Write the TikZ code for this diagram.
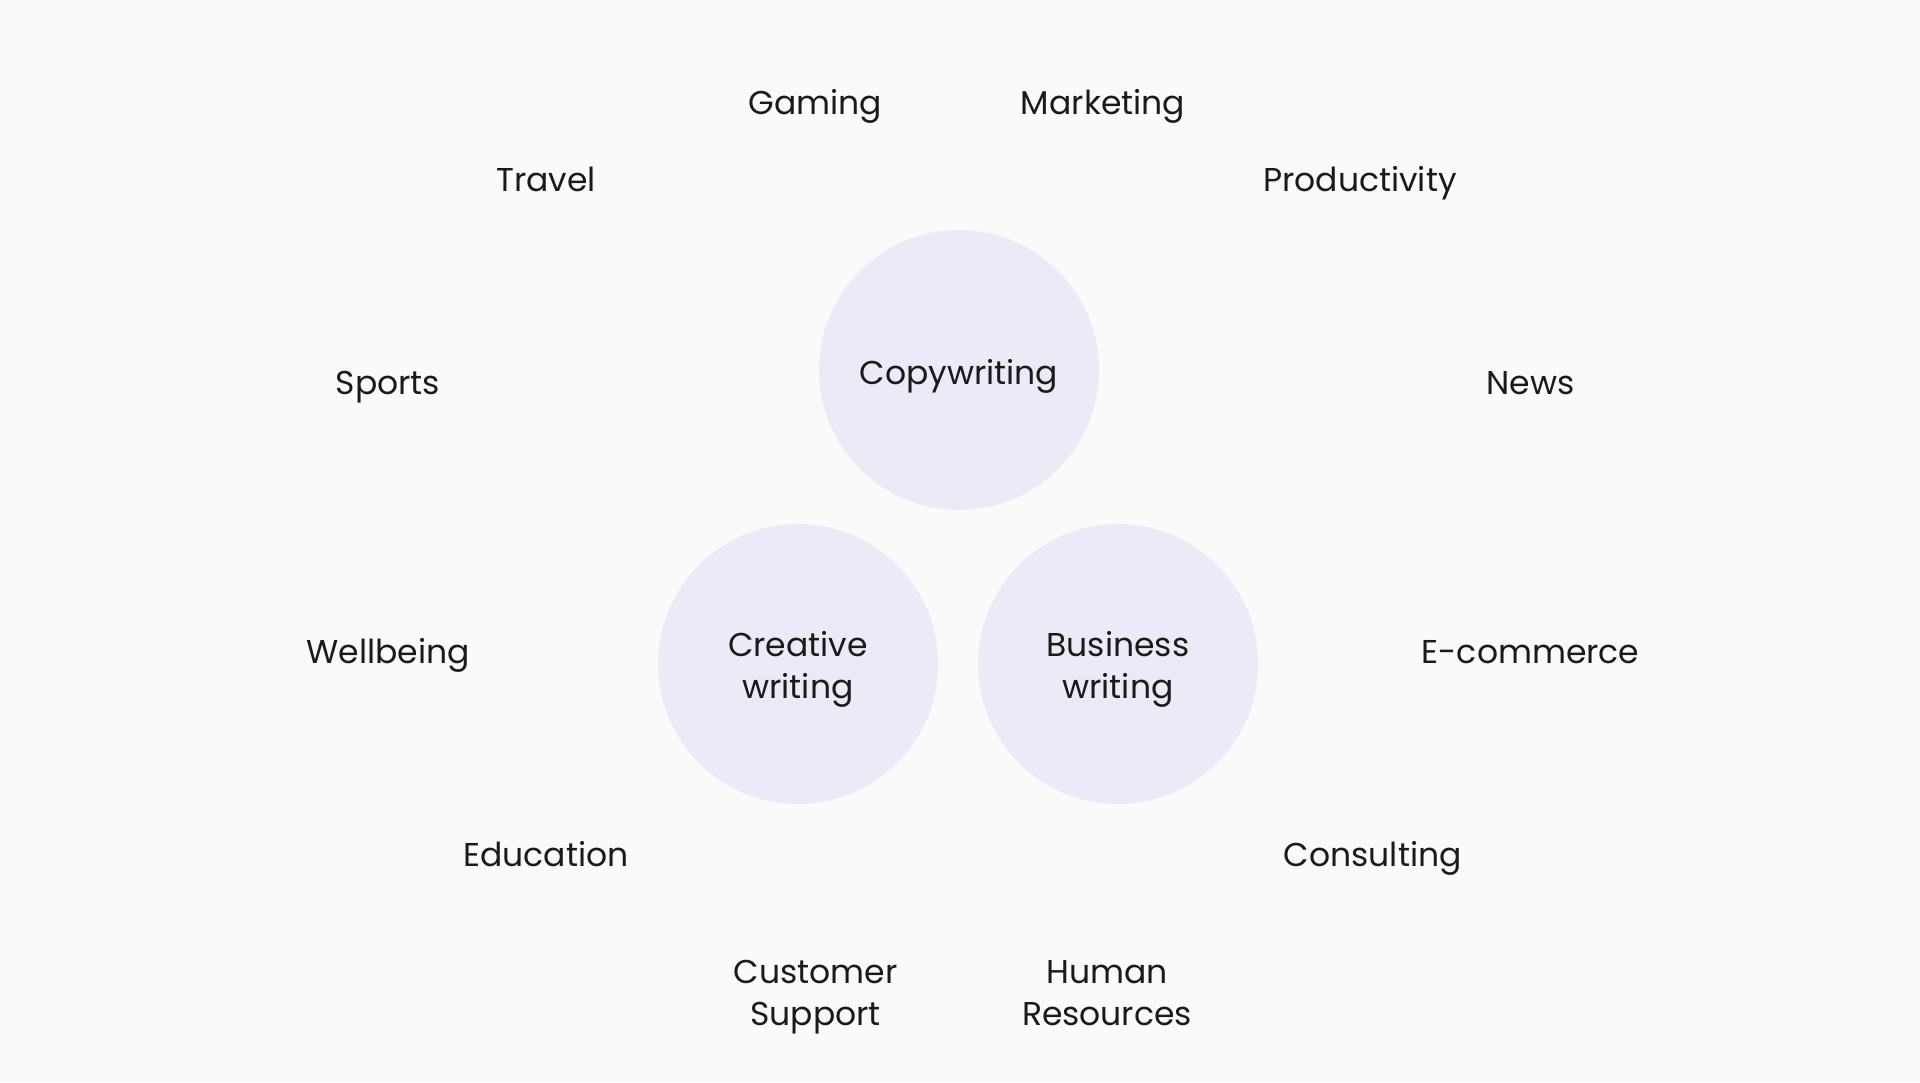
\documentclass[tikz,border=0pt]{standalone}
\usepackage{fontspec}
\setmainfont{Poppins}
\definecolor{bgc}{RGB}{250,250,250}
\definecolor{circc}{RGB}{235,235,248}
\definecolor{txtc}{RGB}{26,26,26}
\begin{document}
\begin{tikzpicture}[x=1pt,y=-1pt,
  lbl/.style={anchor=base,inner sep=0pt,align=center,text=txtc,
    font=\fontsize{33pt}{41.6pt}\selectfont},
  topic/.style={circle,fill=circc,minimum size=280pt,inner sep=0pt}]
\fill[bgc] (0,0) rectangle (1920,1082);
\useasboundingbox (0,0) rectangle (1920,1082);
% circles
\node[topic] (copy) at (959,370) {};
\node[topic] (crea) at (798,664) {};
\node[topic] (busi) at (1118,664) {};
\node[lbl] (copyt) at (959,384) {Copywriting};
\node[lbl] (creat) at (798,698) {Creative\\writing};
\node[lbl] (busit) at (1118,698) {Business\\writing};
% surrounding labels
\node[lbl] (gaming) at (815.5,114) {Gaming};
\node[lbl] (marketing) at (1103,114) {Marketing};
\node[lbl] (travel) at (546,191) {Travel};
\node[lbl] (productivity) at (1360,191) {Productivity};
\node[lbl] (sports) at (388,394.5) {Sports};
\node[lbl] (news) at (1530.6,394.5) {News};
\node[lbl] (wellbeing) at (388,663.5) {Wellbeing};
\node[lbl] (ecommerce) at (1530.6,663.5) {E-commerce};
\node[lbl] (education) at (546,866) {Education};
\node[lbl] (consulting) at (1372.7,866) {Consulting};
\node[lbl] (customer) at (815.5,1025) {Customer\\Support};
\node[lbl] (human) at (1107,1025) {Human\\Resources};
\end{tikzpicture}
\end{document}
